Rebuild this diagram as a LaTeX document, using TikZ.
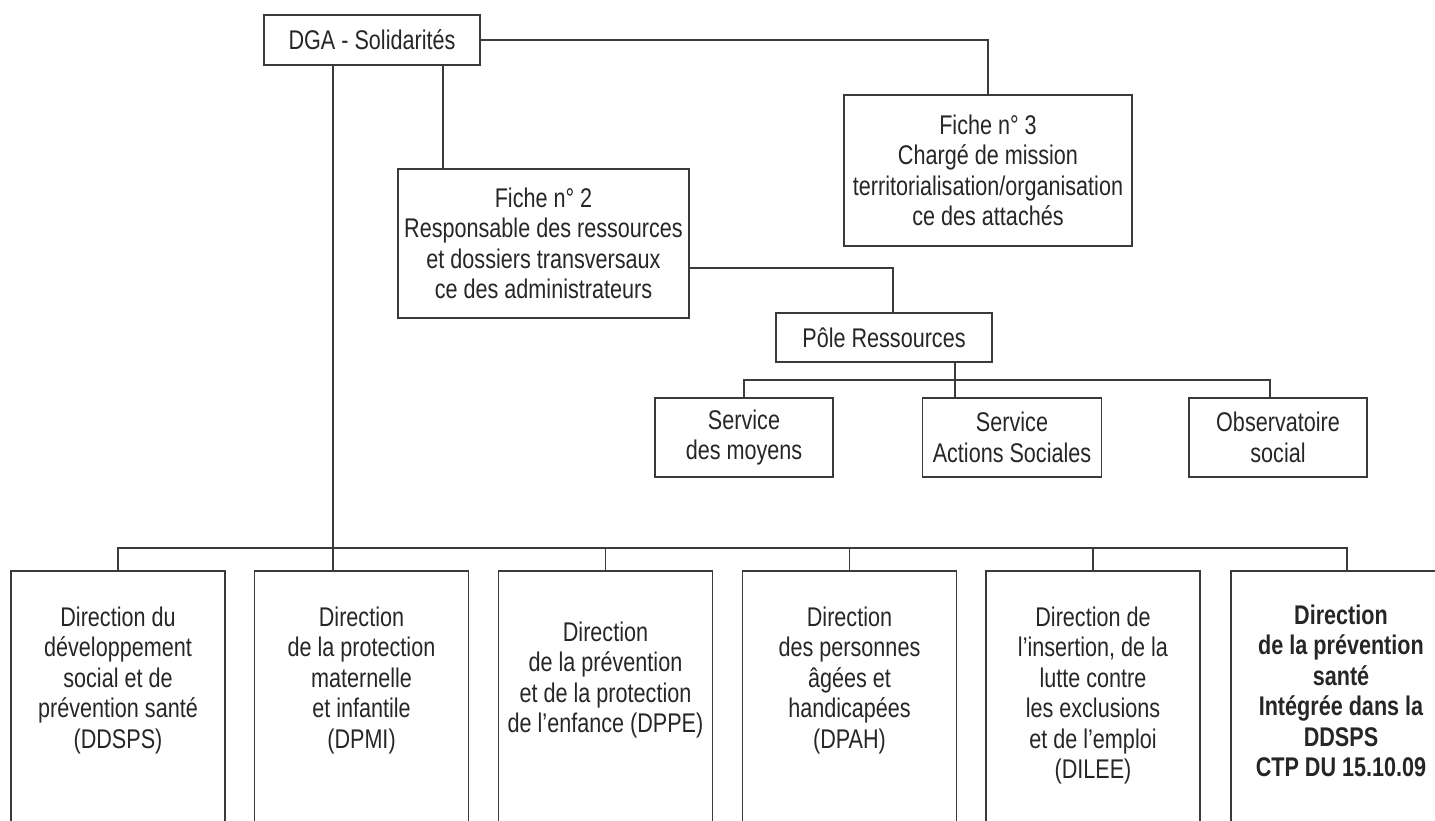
\documentclass[tikz,border=0pt]{standalone}
\usepackage{fontspec}
\setmainfont{Liberation Sans}[FakeStretch=0.8]
\definecolor{ln}{HTML}{3A3A3A}
\definecolor{tx}{HTML}{262626}
\newcommand{\orgfont}{\fontsize{27}{30.5}\selectfont}
\tikzset{
  box/.style={draw=ln, line width=1.4pt, inner sep=0pt, align=center, text=tx, font=\orgfont},
  bigbox/.style={draw=ln, line width=1.4pt, inner sep=0pt, minimum width=214pt, minimum height=269pt},
  txt/.style={inner sep=0pt, align=center, text=tx, font=\orgfont, anchor=north},
  conn/.style={draw=ln, line width=1.4pt}
}
\begin{document}
\begin{tikzpicture}[x=1pt,y=-1pt]
\useasboundingbox (0,0) rectangle (1435,821);
\clip (0,0) rectangle (1435,821);
% top boxes
\node[box, minimum width=216pt, minimum height=50pt] (dga) at (372,40) {DGA - Solidarités};
\node[box, minimum width=288pt, minimum height=151pt] (f3) at (988,170.5) {Fiche n° 3\\Chargé de mission\\territorialisation/organisation\\ce des attachés};
\node[box, minimum width=291pt, minimum height=149pt] (f2) at (543.5,243.5) {Fiche n° 2\\Responsable des ressources\\et dossiers transversaux\\ce des administrateurs};
\node[box, minimum width=216pt, minimum height=49pt] (pole) at (884,337.5) {Pôle Ressources};
\node[box, minimum width=178pt, minimum height=79pt] (s1) at (744,437.5) {Service\\des moyens};
\node[box, minimum width=179pt, minimum height=79pt] (s2) at (1012,437.5) {Service\\Actions Sociales};
\node[box, minimum width=178pt, minimum height=79pt] (s3) at (1278,437.5) {Observatoire\\social};
% bottom boxes
\node[bigbox] (d1) at (118,705.5) {};
\node[bigbox] (d2) at (361.5,705.5) {};
\node[bigbox] (d3) at (605.5,705.5) {};
\node[bigbox] (d4) at (849.5,705.5) {};
\node[bigbox] (d5) at (1093,705.5) {};
\node[bigbox, minimum width=220pt] (d6) at (1341,705.5) {};
\node[txt] (t1) at ([yshift=-36pt]d1.north) {Direction du\\développement\\social et de\\prévention santé\\(DDSPS)};
\node[txt] (t2) at ([yshift=-36pt]d2.north) {Direction\\de la protection\\maternelle\\et infantile\\(DPMI)};
\node[txt] (t3) at ([yshift=-51pt]d3.north) {Direction\\de la prévention\\et de la protection\\de l’enfance (DPPE)};
\node[txt] (t4) at ([yshift=-36pt]d4.north) {Direction\\des personnes\\âgées et\\handicapées\\(DPAH)};
\node[txt] (t5) at ([yshift=-36pt]d5.north) {Direction de\\l’insertion, de la\\lutte contre\\les exclusions\\et de l’emploi\\(DILEE)};
\node[txt, font=\orgfont\bfseries] (t6) at ([yshift=-34pt]d6.north) {Direction\\de la prévention\\santé\\Intégrée dans la\\DDSPS\\CTP DU 15.10.09};
% helper coordinates
\coordinate (k1) at (443,0);
\coordinate (k2) at (333,0);
\coordinate (k3) at (893,268);
\coordinate (k5) at (955,0);
\coordinate (k6) at (1270,380);
\coordinate (bus) at (0,548);
\coordinate (k7) at (1347,548);
% connectors
\draw[conn] (dga.east) -| (f3.north);
\draw[conn] (dga.south -| k1) -- (f2.north -| k1);
\draw[conn] (dga.south -| k2) -- (d2.north -| k2);
\draw[conn] (f2.east |- k3) -| (pole.north -| k3);
\draw[conn] (pole.south -| k5) -- (s2.north -| k5);
\draw[conn] (s1.north) |- (k6) -- (s3.north -| k6);
\draw[conn] (d1.north) |- (k7) -- (d6.north -| k7);
\draw[conn] (d3.north) -- (d3.north |- bus);
\draw[conn] (d4.north) -- (d4.north |- bus);
\draw[conn] (d5.north) -- (d5.north |- bus);
\end{tikzpicture}
\end{document}
